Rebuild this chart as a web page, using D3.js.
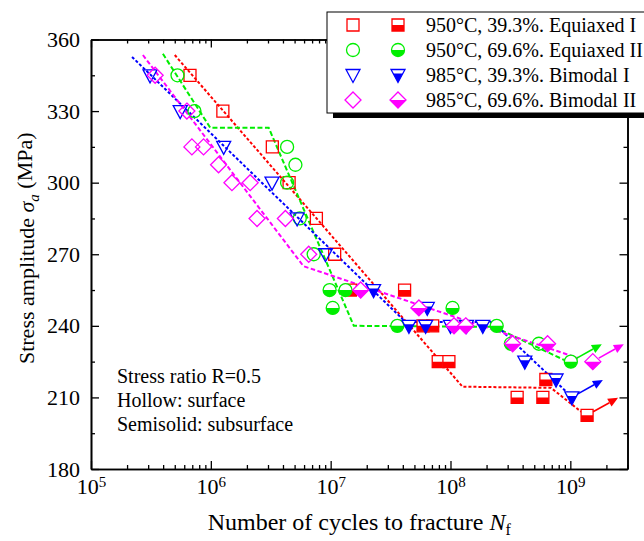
<!DOCTYPE html>
<html>
<head>
<meta charset="utf-8">
<script src="https://cdn.jsdelivr.net/npm/d3@7"></script>
<style>
  body { margin: 0; background: #fff; }
  svg { display: block; font-family: "Liberation Serif", "Times New Roman", serif; }
</style>
</head>
<body>
<div id="chart"></div>
<script>
// ---- data: [cycles, stress amplitude MPa] ----
const seriesNames = ["950°C, 39.3%. Equiaxed I", "950°C, 69.6%. Equiaxed II", "985°C, 39.3%. Bimodal I", "985°C, 69.6%. Bimodal II"]

const eqISurface = [[6.7e5, 345], [1.26e6, 330], [3.26e6, 315], [4.5e6, 300], [7.6e6, 285], [1.08e7, 270]]
const eqISubsurface = [[1.46e7, 255], [4.14e7, 255], [5.9e7, 240], [7.1e7, 240], [7.9e7, 225], [9.7e7, 225], [3.6e8, 210], [5.9e8, 210], [6.25e8, 217.5]]
const eqIRunout = [[1.38e9, 202.5]]
const eqIFit = [[5.0e5, 353.5], [1.26e8, 214.5], [6.9e8, 214], [1.23e9, 204]]

const eqIISurface = [[5.27e5, 345], [7.3e5, 330], [4.33e6, 315], [5.08e6, 307.5], [4.33e6, 300], [5.52e6, 285], [7.22e6, 270], [5.46e8, 232.5]]
const eqIISubsurface = [[9.8e6, 255], [1.33e7, 255], [1.04e7, 247.5], [3.6e7, 240], [1.04e8, 247.5], [2.43e8, 240], [3.19e8, 232.5]]
const eqIIRunout = [[1.01e9, 225]]
const eqIIFit = [[3.98e5, 354], [9.9e5, 323], [3.04e6, 323], [1.56e7, 240], [2.3e8, 239.6], [9.5e8, 225]]

const biISurface = [[3.11e5, 345], [5.55e5, 330], [1.28e6, 315], [3.24e6, 300], [5.25e6, 285], [9.05e6, 270]]
const biISubsurface = [[2.28e7, 255], [6.4e7, 247.5], [4.5e7, 240], [6.2e7, 240], [1.0e8, 240], [1.36e8, 240], [1.86e8, 240], [4.17e8, 225], [7.6e8, 217.5]]
const biIRunout = [[1.03e9, 210]]
const biIFit = [[2.2e5, 352.7], [4.22e7, 241.6], [2.25e8, 241.6], [1.05e9, 209.8]]

const biIISurface = [[3.43e5, 345], [6.31e5, 330], [6.95e5, 315], [8.69e5, 315], [1.16e6, 307.5], [1.5e6, 300], [2.13e6, 300], [2.43e6, 285], [4.19e6, 285], [6.56e6, 270]]
const biIISubsurface = [[1.78e7, 255], [5.45e7, 247.5], [1.07e8, 240], [1.34e8, 240], [3.3e8, 232.5], [6.46e8, 232.5]]
const biIIRunout = [[1.54e9, 225]]
const biIIFit = [[2.71e5, 353.5], [5.93e6, 265], [1.16e9, 226.5]]

const xMajorTicks = [1e5, 1e6, 1e7, 1e8, 1e9]
const yMajorTicks = [180, 210, 240, 270, 300, 330, 360]
const yMinorTicks = [195, 225, 255, 285, 315, 345]
const notes = ["Stress ratio R=0.5", "Hollow: surface", "Semisolid: subsurface"]

// ---- layout ----
const width = 644, height = 541
const plotLeft = 91, plotRight = 627.5, plotTop = 39.5, plotBottom = 469

const x = d3.scaleLog().domain([1e5, 3e9]).range([plotLeft, plotRight])
const y = d3.scaleLinear().domain([180, 360]).range([plotBottom, plotTop])

const xMinorTicks = []
xMajorTicks.forEach(d => {
  for (let k = 2; k <= 9; k++) if (d * k <= 3e9) xMinorTicks.push(d * k)
})

const series = [
  {name: seriesNames[0], color: "#ff0000", shape: "square", surface: eqISurface, sub: eqISubsurface, runout: eqIRunout, fit: eqIFit, dash: "3,2"},
  {name: seriesNames[1], color: "#00ee00", shape: "circle", surface: eqIISurface, sub: eqIISubsurface, runout: eqIIRunout, fit: eqIIFit, dash: "5,2.5"},
  {name: seriesNames[2], color: "#0000ff", shape: "triangle", surface: biISurface, sub: biISubsurface, runout: biIRunout, fit: biIFit, dash: "3,2"},
  {name: seriesNames[3], color: "#ff00ff", shape: "diamond", surface: biIISurface, sub: biIISubsurface, runout: biIIRunout, fit: biIIFit, dash: "4.5,2.5"}
]

const shapes = {
  square: "M-6,-6H6V6H-6Z",
  circle: "M-6.5,0A6.5,6.5 0 1,0 6.5,0A6.5,6.5 0 1,0 -6.5,0Z",
  triangle: "M-7,-5.5L7,-5.5L0,7.5Z",
  diamond: "M0,-8L8,0L0,8L-8,0Z"
}
const halfLine = {square: 0, circle: 0, triangle: -1.5, diamond: 0}

const svg = d3.select("#chart").append("svg")
  .attr("width", width)
  .attr("height", height)

const defs = svg.append("defs")
Object.keys(shapes).forEach(k => {
  defs.append("clipPath").attr("id", "half-" + k)
    .append("rect").attr("x", -12).attr("y", halfLine[k]).attr("width", 24).attr("height", 24)
})

function marker(g, shape, color, half) {
  if (half) {
    g.append("path").attr("d", shapes[shape]).attr("fill", "#fff")
    g.append("path").attr("d", shapes[shape]).attr("fill", color).attr("clip-path", `url(#half-${shape})`)
  }
  g.append("path").attr("d", shapes[shape])
    .attr("fill", "none")
    .attr("stroke", color)
    .attr("stroke-width", 1.3)
}

// ---- axes (ticks point inward on all four sides) ----
function styleAxis(g) {
  g.selectAll("path.domain").attr("stroke", "#000").attr("stroke-width", 1.6)
  g.selectAll(".tick line").attr("stroke", "#000").attr("stroke-width", 1.3)
  g.selectAll("text").attr("fill", "#000")
  g.attr("font-family", null)
}

const xAxisG = svg.append("g")
  .attr("transform", `translate(0,${plotBottom})`)
  .call(d3.axisBottom(x).tickValues(xMajorTicks).tickSizeInner(-8).tickSizeOuter(0).tickFormat(""))
  .call(styleAxis)
xAxisG.selectAll(".tick text")
  .attr("dy", null)
  .attr("y", 25)
  .attr("font-size", 22)
  .each(function(d) {
    const t = d3.select(this)
    t.append("tspan").text("10")
    t.append("tspan").attr("dy", "-0.45em").attr("font-size", 15).text(Math.round(Math.log10(d)))
  })
svg.append("g").attr("transform", `translate(0,${plotBottom})`)
  .call(d3.axisBottom(x).tickValues(xMinorTicks).tickSizeInner(-4).tickSizeOuter(0).tickFormat(""))
  .call(styleAxis)

svg.append("g").attr("transform", `translate(0,${plotTop})`)
  .call(d3.axisTop(x).tickValues(xMajorTicks).tickSizeInner(-8).tickSizeOuter(0).tickFormat(""))
  .call(styleAxis)
svg.append("g").attr("transform", `translate(0,${plotTop})`)
  .call(d3.axisTop(x).tickValues(xMinorTicks).tickSizeInner(-4).tickSizeOuter(0).tickFormat(""))
  .call(styleAxis)

svg.append("g").attr("transform", `translate(${plotLeft},0)`)
  .call(d3.axisLeft(y).tickValues(yMajorTicks).tickSizeInner(-8).tickSizeOuter(0).tickPadding(11))
  .call(styleAxis)
  .selectAll("text").attr("font-size", 22)
svg.append("g").attr("transform", `translate(${plotLeft},0)`)
  .call(d3.axisLeft(y).tickValues(yMinorTicks).tickSizeInner(-4).tickSizeOuter(0).tickFormat(""))
  .call(styleAxis)

svg.append("g").attr("transform", `translate(${plotRight},0)`)
  .call(d3.axisRight(y).tickValues(yMajorTicks).tickSizeInner(-8).tickSizeOuter(0).tickFormat(""))
  .call(styleAxis)
svg.append("g").attr("transform", `translate(${plotRight},0)`)
  .call(d3.axisRight(y).tickValues(yMinorTicks).tickSizeInner(-4).tickSizeOuter(0).tickFormat(""))
  .call(styleAxis)

// axis titles
const yTitle = svg.append("text")
  .attr("transform", `translate(34,${(plotTop + plotBottom) / 2 - 6}) rotate(-90)`)
  .attr("text-anchor", "middle")
  .attr("font-size", 22)
yTitle.append("tspan").text("Stress amplitude ")
yTitle.append("tspan").attr("font-style", "italic").text("σ")
yTitle.append("tspan").attr("font-style", "italic").attr("font-size", 15).attr("dy", "0.3em").text("a")
yTitle.append("tspan").attr("dy", "-0.3em").text(" (MPa)")

const xTitle = svg.append("text")
  .attr("x", (plotLeft + plotRight) / 2)
  .attr("y", 530)
  .attr("text-anchor", "middle")
  .attr("font-size", 24)
xTitle.append("tspan").text("Number of cycles to fracture ")
xTitle.append("tspan").attr("font-style", "italic").text("N")
xTitle.append("tspan").attr("font-size", 16).attr("dy", "0.3em").text("f")

// ---- fitted dashed lines ----
const line = d3.line().x(d => x(d[0])).y(d => y(d[1]))
series.forEach(s => {
  svg.append("path")
    .attr("d", line(s.fit))
    .attr("fill", "none")
    .attr("stroke", s.color)
    .attr("stroke-width", 2)
    .attr("stroke-dasharray", s.dash)
})

// ---- markers ----
series.forEach(s => {
  s.surface.forEach(d => {
    marker(svg.append("g").attr("transform", `translate(${x(d[0])},${y(d[1])})`), s.shape, s.color, false)
  })
  s.sub.concat(s.runout).forEach(d => {
    marker(svg.append("g").attr("transform", `translate(${x(d[0])},${y(d[1])})`), s.shape, s.color, true)
  })
  // run-out arrows
  s.runout.forEach(d => {
    const cx = x(d[0]), cy = y(d[1])
    const x0 = cx + 6, y0 = cy - 3.5, x1 = cx + 31, y1 = cy - 17.5
    const len = Math.hypot(x1 - x0, y1 - y0)
    const ux = (x1 - x0) / len, uy = (y1 - y0) / len
    const bx = x1 - 10 * ux, by = y1 - 10 * uy
    svg.append("line")
      .attr("x1", x0).attr("y1", y0).attr("x2", bx).attr("y2", by)
      .attr("stroke", s.color).attr("stroke-width", 1.6)
    svg.append("path")
      .attr("d", `M${x1},${y1}L${bx - 4.5 * uy},${by + 4.5 * ux}L${bx + 4.5 * uy},${by - 4.5 * ux}Z`)
      .attr("fill", s.color)
  })
})

// ---- notes ----
svg.append("g").selectAll("text")
  .data(notes)
  .join("text")
  .attr("x", 117)
  .attr("y", (d, i) => 383 + i * 24)
  .attr("font-size", 20)
  .text(d => d)

// ---- legend ----
const legend = svg.append("g")
legend.append("rect").attr("x", 333).attr("y", 17).attr("width", 340).attr("height", 101).attr("fill", "#000")
legend.append("rect").attr("x", 327).attr("y", 12).attr("width", 340).attr("height", 101)
  .attr("fill", "#fff").attr("stroke", "#000").attr("stroke-width", 1)
series.forEach((s, i) => {
  const cy = 25 + i * 25
  marker(legend.append("g").attr("transform", `translate(353,${cy})`), s.shape, s.color, false)
  marker(legend.append("g").attr("transform", `translate(398,${cy})`), s.shape, s.color, true)
  legend.append("text")
    .attr("x", 426)
    .attr("y", cy + 7)
    .attr("font-size", 20)
    .text(s.name)
})
</script>
</body>
</html>
